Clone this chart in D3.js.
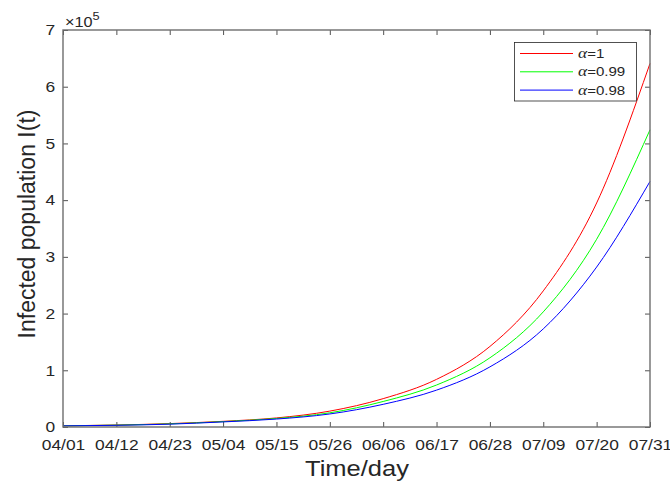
<!DOCTYPE html>
<html>
<head>
<meta charset="utf-8">
<script src="https://cdn.jsdelivr.net/npm/d3@7"></script>
<style>
  body { margin: 0; background: #fff; }
  text { font-family: "Liberation Sans", Arial, sans-serif; fill: #262626; }
</style>
</head>
<body>
<div id="chart"></div>
<script>
const width = 670;
const height = 483;

// days since 04/01, and the tick labels shown on the time axis
const days = [0, 11, 22, 33, 44, 55, 66, 77, 88, 99, 110, 121];
const tickLabels = ["04/01", "04/12", "04/23", "05/04", "05/15", "05/26",
  "06/06", "06/17", "06/28", "07/09", "07/20", "07/31"];

// infected population, in units of 1e5, read at each tick day
const alpha100 = [0.02, 0.035, 0.06, 0.10, 0.16, 0.28, 0.50, 0.84, 1.42, 2.40, 3.95, 6.41];
const alpha099 = [0.02, 0.033, 0.055, 0.095, 0.15, 0.25, 0.45, 0.74, 1.22, 2.03, 3.31, 5.24];
const alpha098 = [0.02, 0.03, 0.05, 0.09, 0.14, 0.23, 0.40, 0.65, 1.06, 1.73, 2.82, 4.33];

const seriesNames = ["=1", "=0.99", "=0.98"];
const seriesColors = ["#ff0000", "#00ff00", "#0000ff"];
const yTicks = [0, 1, 2, 3, 4, 5, 6, 7];

const margin = {left: 63, right: 20, top: 30, bottom: 56};
const sx = 1.16; // text in the reference is a little stretched sideways

const svg = d3.select("#chart").append("svg")
  .attr("width", width)
  .attr("height", height);

const x = d3.scaleLinear().domain([0, 121]).range([margin.left, width - margin.right]);
const y = d3.scaleLinear().domain([0, 7]).range([height - margin.bottom, margin.top]);

const axisColor = "#6e6e6e";

// bottom axis with labels
const gx = svg.append("g")
  .attr("transform", "translate(0," + y(0) + ")")
  .call(d3.axisBottom(x).tickValues(days).tickFormat((d, i) => tickLabels[i])
    .tickSizeInner(-5).tickSizeOuter(0).tickPadding(12.4));
gx.selectAll("text").attr("font-size", 15).attr("font-family", null)
  .attr("transform", "scale(" + sx + ",1)");

// left axis with labels
const gy = svg.append("g")
  .attr("transform", "translate(" + x(0) + ",0)")
  .call(d3.axisLeft(y).tickValues(yTicks).tickFormat(d3.format("d"))
    .tickSizeInner(-5).tickSizeOuter(0).tickPadding(6.8));
gy.selectAll("text").attr("font-size", 15).attr("font-family", null)
  .attr("transform", "scale(" + sx + ",1)");

// mirrored ticks on top and right
const gt = svg.append("g")
  .attr("transform", "translate(0," + y(7) + ")")
  .call(d3.axisTop(x).tickValues(days).tickFormat("").tickSizeInner(-5).tickSizeOuter(0));
const gr = svg.append("g")
  .attr("transform", "translate(" + x(121) + ",0)")
  .call(d3.axisRight(y).tickValues(yTicks).tickFormat("").tickSizeInner(-5).tickSizeOuter(0));

[gx, gy, gt, gr].forEach(g => {
  g.select(".domain").remove();
  g.selectAll("line").attr("stroke", "#262626").attr("stroke-width", 0.8);
});

// lines
const line = d3.line()
  .x((d, i) => x(days[i]))
  .y(d => y(d))
  .curve(d3.curveMonotoneX);

[alpha100, alpha099, alpha098].forEach((s, k) => {
  svg.append("path")
    .datum(s)
    .attr("d", line)
    .attr("fill", "none")
    .attr("stroke", seriesColors[k])
    .attr("stroke-width", 1);
});

// box
svg.append("rect")
  .attr("x", x(0)).attr("y", y(7))
  .attr("width", x(121) - x(0)).attr("height", y(0) - y(7))
  .attr("fill", "none").attr("stroke", axisColor).attr("stroke-width", 1.4);

// exponent label
const ex = svg.append("text")
  .attr("transform", "translate(" + (x(0) + 2) + ",27) scale(" + sx + ",1)")
  .attr("font-size", 14);
ex.append("tspan").text("×10");
ex.append("tspan").attr("font-size", 11).attr("dy", -7).text("5");

// axis titles
svg.append("text")
  .attr("transform", "translate(" + 357 + ",476) scale(" + sx + ",1)")
  .attr("text-anchor", "middle")
  .attr("font-size", 22)
  .text("Time/day");

svg.append("text")
  .attr("transform", "translate(34.5,224) rotate(-90)")
  .attr("text-anchor", "middle")
  .attr("font-size", 23)
  .text("Infected population I(t)");

// legend
const lg = svg.append("g");
lg.append("rect")
  .attr("x", 514.5).attr("y", 42.5).attr("width", 122).attr("height", 58.5)
  .attr("fill", "#fff").attr("stroke", "#262626").attr("stroke-width", 0.8);
seriesNames.forEach((name, k) => {
  const ry = 53.5 + k * 18.3;
  lg.append("line")
    .attr("x1", 520).attr("x2", 573).attr("y1", ry).attr("y2", ry)
    .attr("stroke", seriesColors[k]).attr("stroke-width", 1);
  const t = lg.append("text")
    .attr("transform", "translate(578," + (ry + 4.5) + ") scale(" + sx + ",1)")
    .attr("font-size", 13);
  t.append("tspan").attr("font-family", "Liberation Serif, serif").attr("font-style", "italic")
    .attr("font-size", 15).text("α");
  t.append("tspan").text(name);
});
</script>
</body>
</html>
